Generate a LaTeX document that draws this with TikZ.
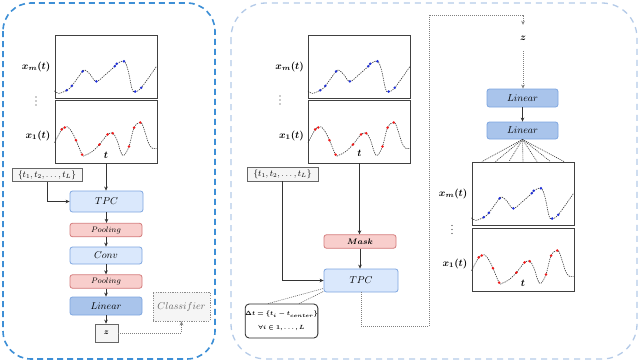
\documentclass[tikz,border=0pt]{standalone}
\usepackage{amsmath,bm}
\usetikzlibrary{arrows.meta,calc}
\definecolor{panelA}{HTML}{3D8FD6}
\definecolor{panelB}{HTML}{B5CBE8}
\definecolor{tpcfill}{HTML}{DAE8FC}
\definecolor{tpcdraw}{HTML}{7EA6E0}
\definecolor{linfill}{HTML}{A9C4EB}
\definecolor{poolfill}{HTML}{F8CECC}
\definecolor{pooldraw}{HTML}{D47B7B}
\definecolor{grayfill}{HTML}{F5F5F5}
\definecolor{graydraw}{HTML}{666666}
\definecolor{dotblue}{HTML}{1F2FD8}
\definecolor{dotred}{HTML}{F01818}
\newcommand{\drawxm}[1]{%
 \begin{scope}[shift={(#1.south west)}, x=102pt, y=63pt]
 \draw[sigcurve] plot[smooth, tension=0.6] coordinates {(0,0.12) (0.04,0.08) (0.12,0.13) (0.17,0.2) (0.275,0.43) (0.31,0.44) (0.35,0.38) (0.41,0.27) (0.50,0.38) (0.59,0.51) (0.61,0.55) (0.68,0.59) (0.72,0.45) (0.76,0.15) (0.79,0.11) (0.85,0.17) (1.0,0.51)};
 \foreach \a/\b in {0.12/0.13, 0.17/0.2, 0.275/0.43, 0.41/0.27, 0.59/0.51, 0.61/0.55, 0.68/0.59, 0.79/0.11, 0.85/0.17}
   \fill[dotblue] (\a,\b) circle (1.4pt);
 \end{scope}}
\newcommand{\drawxone}[1]{%
 \begin{scope}[shift={(#1.south west)}, x=102pt, y=63pt]
 \draw[sigcurve] plot[smooth, tension=0.6] coordinates {(0,0.33) (0.07,0.54) (0.10,0.57) (0.13,0.58) (0.17,0.5) (0.21,0.37) (0.27,0.14) (0.30,0.13) (0.37,0.19) (0.44,0.30) (0.52,0.46) (0.57,0.48) (0.61,0.38) (0.65,0.18) (0.68,0.13) (0.73,0.27) (0.78,0.57) (0.84,0.65) (0.87,0.58) (0.92,0.33) (0.96,0.24) (1.0,0.24)};
 \foreach \a/\b in {0.07/0.54, 0.10/0.57, 0.21/0.37, 0.27/0.14, 0.44/0.30, 0.52/0.46, 0.57/0.48, 0.73/0.27, 0.78/0.57, 0.84/0.65}
   \fill[dotred] (\a,\b) circle (1.4pt);
 \end{scope}}
\newcommand{\vdotsat}[1]{%
 \foreach \k in {-4,0,4} \fill[black!85] ($(#1)+(0,\k)$) circle (0.7pt);}
\begin{document}
\begin{tikzpicture}[x=1pt,y=-1pt,
  plotbox/.style={rectangle, draw=black!75, line width=0.9pt, minimum width=102pt, minimum height=63pt, inner sep=0pt},
  sigcurve/.style={black!80, line width=0.6pt, dash pattern=on 1.3pt off 1pt},
  lbl/.style={inner sep=0pt, font=\fontsize{10}{12}\selectfont},
  blk/.style={rectangle, rounded corners=2.5pt, line width=0.8pt, inner sep=0pt},
  tpc/.style={blk, draw=tpcdraw, fill=tpcfill, minimum width=73pt, minimum height=21pt, font=\fontsize{10}{12}\selectfont},
  conv/.style={blk, draw=tpcdraw, fill=tpcfill, minimum width=72pt, minimum height=17pt, font=\fontsize{10}{12}\selectfont},
  lin/.style={blk, draw=tpcdraw, fill=linfill, minimum width=72pt, minimum height=18pt, font=\fontsize{10}{12}\selectfont},
  pool/.style={blk, draw=pooldraw, fill=poolfill, minimum width=72pt, minimum height=13.5pt, font=\fontsize{8}{9}\selectfont},
  tset/.style={rectangle, draw=graydraw, fill=grayfill, line width=0.7pt, minimum width=70pt, minimum height=13pt, inner sep=0pt, font=\fontsize{8.7}{10}\selectfont},
  zbox/.style={rectangle, draw=graydraw, fill=grayfill, line width=0.7pt, minimum width=23pt, minimum height=18pt, inner sep=0pt, font=\fontsize{8}{9}\selectfont},
  cls/.style={rectangle, draw=black!45, fill=grayfill, line width=0.7pt, dash pattern=on 1.2pt off 1.2pt, minimum width=57pt, minimum height=29pt, inner sep=0pt, text=black!60, font=\fontsize{10}{12}\selectfont},
  dtbox/.style={rectangle, rounded corners=4pt, draw=black!85, fill=white, line width=0.8pt, minimum width=67pt, minimum height=34pt, inner sep=0pt, align=center, font=\fontsize{6.4}{13.5}\selectfont},
  arr/.style={draw=black!80, line width=0.7pt, -{Stealth[length=4pt,width=3.6pt]}},
  dotc/.style={draw=black!50, line width=0.7pt, dash pattern=on 1pt off 1pt},
  dotarr/.style={dotc, -{Stealth[length=4pt,width=3.6pt]}},
  fan/.style={draw=black!80, line width=0.6pt, dash pattern=on 1pt off 1pt}]
\useasboundingbox (0,0) rectangle (640,362);
\fill[white] (0,0) rectangle (640,362);
% panels
\draw[panelA, line width=1.6pt, dash pattern=on 6pt off 4pt, rounded corners=28pt] (3,3) rectangle (215,359);
\draw[panelB, line width=1.3pt, dash pattern=on 6pt off 5pt, rounded corners=35pt] (231,3) rectangle (637,359);

% ---------- left panel ----------
\node[plotbox] (lt) at (106,66.5) {};
\node[plotbox] (lb) at (106,131.5) {};
\drawxm{lt}
\drawxone{lb}
\node[lbl, anchor=east] (ltl) at ($(lt.west)+(-4,0)$) {$\bm{x_m(t)}$};
\node[lbl, anchor=east] (lbl1) at ($(lb.west)+(-4,4)$) {$\bm{x_1(t)}$};
\coordinate (ldots) at (36,101);
\vdotsat{ldots}
\node[lbl] (ltt) at ($(lb.south)+(0,-8)$) {$\bm{t}$};

\node[tset] (tsL) at (47,175) {$\{t_1,t_2,\ldots,t_L\}$};
\node[tpc] (tpcL) at (106.5,201.5) {$TPC$};
\node[pool] (p1) at (106,230) {$Pooling$};
\node[conv] (conv) at (106,255.5) {$Conv$};
\node[pool] (p2) at (106,281.5) {$Pooling$};
\node[lin] (linL) at (106,306) {$Linear$};
\node[zbox] (zL) at (106.5,333) {$\bm{z}$};
\node[cls] (cls) at (181.5,306.5) {$Classifier$};

\draw[arr] (lb.south) -- (lb.south |- tpcL.north);
\draw[arr] (tsL.south) |- (tpcL.west);
\draw[arr] (tpcL.south) -- (tpcL.south |- p1.north);
\draw[arr] (p1.south) -- (p1.south |- conv.north);
\draw[arr] (conv.south) -- (conv.south |- p2.north);
\draw[arr] (p2.south) -- (p2.south |- linL.north);
\draw[arr] (linL.south) -- (linL.south |- zL.north);
\draw[dotarr] (zL.east) -| (cls.south);

% ---------- right panel ----------
\node[plotbox] (mt) at (359.5,66.5) {};
\node[plotbox] (mb) at (359.5,131.5) {};
\drawxm{mt}
\drawxone{mb}
\node[lbl, anchor=east] (mtl) at ($(mt.west)+(-4,0)$) {$\bm{x_m(t)}$};
\node[lbl, anchor=east] (mbl) at ($(mb.west)+(-4,4)$) {$\bm{x_1(t)}$};
\coordinate (mdots) at (280,100);
\vdotsat{mdots}
\node[lbl] (mtt) at ($(mb.south)+(0,-10)$) {$\bm{t}$};

\node[tset, minimum width=71pt, minimum height=14pt] (tsR) at (282.5,174) {$\{t_1,t_2,\ldots,t_L\}$};
\node[pool] (mask) at (360,241.5) {$\bm{Mask}$};
\node[tpc, minimum width=74pt, minimum height=23pt] (tpcR) at (361,280.5) {$TPC$};
\node[dtbox] (dt) at (281.5,321) {$\bm{\Delta t=\{t_i-t_{center}\}}$\\$\bm{\forall i\in 1,\ldots,L}$};

\draw[arr] (mb.south) -- (mb.south |- mask.north);
\draw[arr] (mask.south) -- (mask.south |- tpcR.north);
\draw[arr] (tsR.south) |- (tpcR.west);
\draw[fan, draw=black!60] ([xshift=-13.5pt]dt.north) -- ([yshift=4pt]tpcR.south west);
\draw[fan, draw=black!60] ([xshift=17.5pt]dt.north) -- ([yshift=1pt]tpcR.south west);

\coordinate (c1) at (429,326);
\coordinate (c2) at (429,15);
\node[lbl, minimum height=26pt] (zR) at (523,38) {$\bm{z}$};
\node[lin, minimum width=71pt] (lin1) at (522.5,98) {$Linear$};
\node[lin, minimum width=71pt, minimum height=17pt] (lin2) at (522.5,130.5) {$Linear$};
\draw[dotarr] (tpcR.south) |- (c1) -- (c2) -| (zR.north);
\draw[dotarr] (zR.south) -- (zR.south |- lin1.north);
\draw[arr] (lin1.south) -- (lin1.south |- lin2.north);

\node[plotbox] (rt) at (523,193.5) {};
\node[plotbox] (rb) at (523,259.5) {};
\drawxm{rt}
\drawxone{rb}
\node[lbl, anchor=east] (rtl) at ($(rt.west)+(-4,0)$) {$\bm{x_m(t)}$};
\node[lbl, anchor=east] (rbl) at ($(rb.west)+(-4,4)$) {$\bm{x_1(t)}$};
\coordinate (rdots) at (452,229.5);
\vdotsat{rdots}
\node[lbl] (rtt) at ($(rb.south)+(0,-8)$) {$\bm{t}$};
\foreach \dx in {-41,-27.5,-14,0,14,27.5,41}
  \draw[fan] (lin2.south) -- ([xshift=\dx pt]rt.north);
\end{tikzpicture}
\end{document}
